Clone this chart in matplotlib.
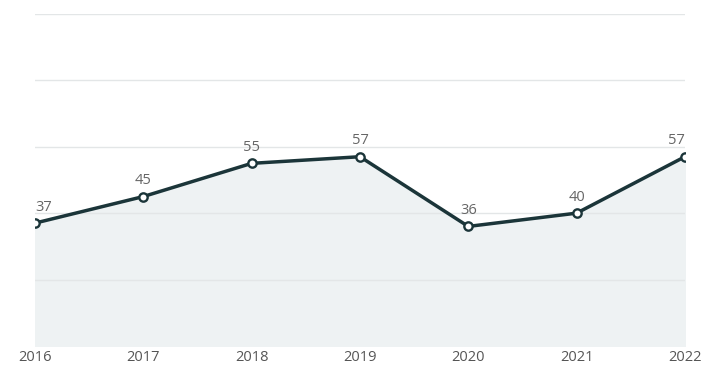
import matplotlib.pyplot as plt

years = ["2016", "2017", "2018", "2019", "2020", "2021", "2022"]
values = [37, 45, 55, 57, 36, 40, 57]
grid_levels = [20, 40, 60, 80, 100]


def main():
    plt.rcParams['font.family'] = ['Open Sans', 'DejaVu Sans']
    fig = plt.figure(figsize=(7.03, 3.68), dpi=100)
    ax = fig.add_axes([0.0498, 0.060, 0.9245, 0.902])

    x = list(range(len(years)))
    ax.fill_between(x, values, 0, color='#eef2f3', zorder=1)
    for g in grid_levels:
        ax.axhline(g, color='#e3e6e7', linewidth=1, zorder=2)
    ax.plot(x, values, color='#1b3539', linewidth=2.5, marker='o',
            markersize=6, markerfacecolor='white', markeredgecolor='#1b3539',
            markeredgewidth=1.7, zorder=4)

    # keep the end labels inside the plot
    for xi, v in zip(x, values):
        ha = 'center'
        if xi == 0:
            ha = 'left'
        elif xi == len(x) - 1:
            ha = 'right'
        ax.annotate(str(v), (xi, v), xytext=(0, 6), textcoords='offset points',
                    ha=ha, va='bottom', fontsize=10.5, color='#666666')

    ax.set_xlim(0, len(years) - 1)
    ax.set_ylim(0, 100)
    ax.set_xticks(x)
    ax.set_xticklabels(years, fontsize=10.5, color='#555555')
    ax.tick_params(axis='x', length=0, pad=3)
    ax.set_yticks([])
    for s in ax.spines.values():
        s.set_visible(False)

    fig.savefig('out.png', dpi=100)


if __name__ == "__main__":
    main()
